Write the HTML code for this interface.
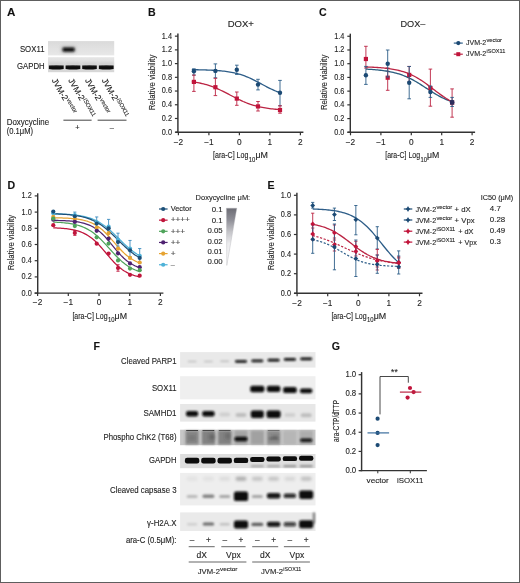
<!DOCTYPE html>
<html><head><meta charset="utf-8"><style>
html,body{margin:0;padding:0;background:#fff;}
body{width:520px;height:583px;overflow:hidden;}
svg{display:block;font-family:"Liberation Sans", sans-serif;will-change:transform;}
text{stroke:#2a2a2a;stroke-width:0.12px;}
</style></head><body>
<svg width="520" height="583" viewBox="0 0 520 583">
<defs>
<filter id="b06" x="-50%" y="-100%" width="200%" height="300%"><feGaussianBlur stdDeviation="0.6"/></filter>
<filter id="b08" x="-50%" y="-100%" width="200%" height="300%"><feGaussianBlur stdDeviation="0.8"/></filter>
<filter id="b12" x="-50%" y="-50%" width="200%" height="200%"><feGaussianBlur stdDeviation="1.2"/></filter>
<filter id="b15" x="-50%" y="-100%" width="200%" height="300%"><feGaussianBlur stdDeviation="1.5"/></filter>
<linearGradient id="gA1" x1="0" y1="0" x2="0" y2="1"><stop offset="0" stop-color="#dadada"/><stop offset="1" stop-color="#e8e8e8"/></linearGradient>
<linearGradient id="gA2" x1="0" y1="0" x2="0" y2="1"><stop offset="0" stop-color="#e6e6e6"/><stop offset="0.45" stop-color="#dcdcdc"/><stop offset="1" stop-color="#d6d6d6"/></linearGradient>
<linearGradient id="tri" x1="0" y1="0" x2="0" y2="1"><stop offset="0" stop-color="#6c6c74"/><stop offset="0.2" stop-color="#8e8e96"/><stop offset="0.42" stop-color="#c6c6ca"/><stop offset="0.62" stop-color="#ececee"/><stop offset="1" stop-color="#fbfbfb"/></linearGradient>
</defs>
<rect x="0" y="0" width="520" height="583" fill="#fff"/>
<text x="6.9" y="16.2" font-size="11.6" font-weight="bold" fill="#111">A</text>
<text x="44.5" y="52.0" font-size="8.8" text-anchor="end" textLength="24.6" lengthAdjust="spacingAndGlyphs" fill="#1c1c1c">SOX11</text>
<text x="44.6" y="68.6" font-size="8.8" text-anchor="end" textLength="27.6" lengthAdjust="spacingAndGlyphs" fill="#1c1c1c">GAPDH</text>
<rect x="48" y="41.1" width="66.2" height="14.3" fill="url(#gA1)"/>
<rect x="48" y="57.2" width="66.2" height="15.0" fill="url(#gA2)"/>
<rect x="60.5" y="45.5" width="16" height="8" rx="3" fill="#999" fill-opacity="0.35" filter="url(#b15)"/>
<rect x="62.6" y="47.4" width="12" height="4.3" rx="1.4" fill="#0a0a0a" filter="url(#b08)"/>
<path d="M48.9,65.6 Q56.3,65.0 63.7,65.6 L63.7,68.9 Q56.3,70.3 48.9,68.9 Z" fill="#0b0b0b" filter="url(#b06)"/>
<rect x="48.9" y="62.5" width="14.800000000000004" height="3" fill="#aaa" fill-opacity="0.25" filter="url(#b12)"/>
<path d="M65.6,65.6 Q72.94999999999999,65.0 80.3,65.6 L80.3,68.9 Q72.94999999999999,70.3 65.6,68.9 Z" fill="#0b0b0b" filter="url(#b06)"/>
<rect x="65.6" y="62.5" width="14.700000000000003" height="3" fill="#aaa" fill-opacity="0.25" filter="url(#b12)"/>
<path d="M82.2,65.6 Q89.5,65.0 96.8,65.6 L96.8,68.9 Q89.5,70.3 82.2,68.9 Z" fill="#0b0b0b" filter="url(#b06)"/>
<rect x="82.2" y="62.5" width="14.599999999999994" height="3" fill="#aaa" fill-opacity="0.25" filter="url(#b12)"/>
<path d="M98.9,65.6 Q106.25,65.0 113.6,65.6 L113.6,68.9 Q106.25,70.3 98.9,68.9 Z" fill="#0b0b0b" filter="url(#b06)"/>
<rect x="98.9" y="62.5" width="14.699999999999989" height="3" fill="#aaa" fill-opacity="0.25" filter="url(#b12)"/>
<text transform="translate(51.4,80.2) rotate(60)" font-size="8.4" fill="#1c1c1c">JVM-2<tspan font-size="5.8" dx="0.3" dy="-3.2">vector</tspan></text>
<text transform="translate(68.0,80.2) rotate(60)" font-size="8.4" fill="#1c1c1c">JVM-2<tspan font-size="5.8" dx="0.3" dy="-3.2">iSOX11</tspan></text>
<text transform="translate(84.7,80.2) rotate(60)" font-size="8.4" fill="#1c1c1c">JVM-2<tspan font-size="5.8" dx="0.3" dy="-3.2">vector</tspan></text>
<text transform="translate(101.4,80.2) rotate(60)" font-size="8.4" fill="#1c1c1c">JVM-2<tspan font-size="5.8" dx="0.3" dy="-3.2">iSOX11</tspan></text>
<line x1="63.4" y1="120.2" x2="91.6" y2="120.2" stroke="#555" stroke-width="1.1"/>
<line x1="97.6" y1="120.2" x2="126.5" y2="120.2" stroke="#555" stroke-width="1.1"/>
<text x="77.4" y="129.5" font-size="7.5" text-anchor="middle" fill="#1c1c1c">+</text>
<text x="111.8" y="129.5" font-size="7.5" text-anchor="middle" fill="#1c1c1c">–</text>
<text x="6.7" y="125.0" font-size="8.5" textLength="42.4" lengthAdjust="spacingAndGlyphs" fill="#1c1c1c">Doxycycline</text>
<text x="6.7" y="134.3" font-size="8.3" textLength="26.3" lengthAdjust="spacingAndGlyphs" fill="#1c1c1c">(0.1μM)</text>
<text x="147.9" y="16.1" font-size="10.6" font-weight="bold" fill="#111">B</text>
<text x="227.7" y="27.0" font-size="8.9" textLength="26.2" lengthAdjust="spacingAndGlyphs" fill="#1c1c1c">DOX+</text>
<line x1="177.9" y1="33.559999999999995" x2="177.9" y2="132.79999999999998" stroke="#333333" stroke-width="1.45"/>
<line x1="174.9" y1="132.2" x2="177.9" y2="132.2" stroke="#333333" stroke-width="1.2"/>
<text x="172.0" y="134.6" font-size="8.5" text-anchor="end" textLength="10.2" lengthAdjust="spacingAndGlyphs" fill="#1c1c1c">0.0</text>
<line x1="174.9" y1="118.47999999999999" x2="177.9" y2="118.47999999999999" stroke="#333333" stroke-width="1.2"/>
<text x="172.0" y="120.88" font-size="8.5" text-anchor="end" textLength="10.2" lengthAdjust="spacingAndGlyphs" fill="#1c1c1c">0.2</text>
<line x1="174.9" y1="104.75999999999999" x2="177.9" y2="104.75999999999999" stroke="#333333" stroke-width="1.2"/>
<text x="172.0" y="107.16" font-size="8.5" text-anchor="end" textLength="10.2" lengthAdjust="spacingAndGlyphs" fill="#1c1c1c">0.4</text>
<line x1="174.9" y1="91.03999999999999" x2="177.9" y2="91.03999999999999" stroke="#333333" stroke-width="1.2"/>
<text x="172.0" y="93.44" font-size="8.5" text-anchor="end" textLength="10.2" lengthAdjust="spacingAndGlyphs" fill="#1c1c1c">0.6</text>
<line x1="174.9" y1="77.32" x2="177.9" y2="77.32" stroke="#333333" stroke-width="1.2"/>
<text x="172.0" y="79.72" font-size="8.5" text-anchor="end" textLength="10.2" lengthAdjust="spacingAndGlyphs" fill="#1c1c1c">0.8</text>
<line x1="174.9" y1="63.599999999999994" x2="177.9" y2="63.599999999999994" stroke="#333333" stroke-width="1.2"/>
<text x="172.0" y="66.0" font-size="8.5" text-anchor="end" textLength="10.2" lengthAdjust="spacingAndGlyphs" fill="#1c1c1c">1.0</text>
<line x1="174.9" y1="49.879999999999995" x2="177.9" y2="49.879999999999995" stroke="#333333" stroke-width="1.2"/>
<text x="172.0" y="52.279999999999994" font-size="8.5" text-anchor="end" textLength="10.2" lengthAdjust="spacingAndGlyphs" fill="#1c1c1c">1.2</text>
<line x1="174.9" y1="36.16" x2="177.9" y2="36.16" stroke="#333333" stroke-width="1.2"/>
<text x="172.0" y="38.559999999999995" font-size="8.5" text-anchor="end" textLength="10.2" lengthAdjust="spacingAndGlyphs" fill="#1c1c1c">1.4</text>
<line x1="175.4" y1="132.2" x2="303.4" y2="132.2" stroke="#333333" stroke-width="1.45"/>
<line x1="178.4" y1="132.2" x2="178.4" y2="135.2" stroke="#333333" stroke-width="1.2"/>
<text x="178.4" y="144.5" font-size="8.3" text-anchor="middle" fill="#1c1c1c">−2</text>
<line x1="208.9" y1="132.2" x2="208.9" y2="135.2" stroke="#333333" stroke-width="1.2"/>
<text x="208.9" y="144.5" font-size="8.3" text-anchor="middle" fill="#1c1c1c">−1</text>
<line x1="239.4" y1="132.2" x2="239.4" y2="135.2" stroke="#333333" stroke-width="1.2"/>
<text x="239.4" y="144.5" font-size="8.3" text-anchor="middle" fill="#1c1c1c">0</text>
<line x1="269.9" y1="132.2" x2="269.9" y2="135.2" stroke="#333333" stroke-width="1.2"/>
<text x="269.9" y="144.5" font-size="8.3" text-anchor="middle" fill="#1c1c1c">1</text>
<line x1="300.4" y1="132.2" x2="300.4" y2="135.2" stroke="#333333" stroke-width="1.2"/>
<text x="300.4" y="144.5" font-size="8.3" text-anchor="middle" fill="#1c1c1c">2</text>
<text transform="translate(155.1,82.5) rotate(-90)" font-size="8.6" text-anchor="middle" textLength="55.7" lengthAdjust="spacingAndGlyphs" fill="#1c1c1c">Relative viability</text>
<text x="213.1" y="158.3" font-size="8.2" textLength="35.3" lengthAdjust="spacingAndGlyphs" fill="#1c1c1c">[ara-C] Log</text>
<text x="248.7" y="161.5" font-size="6.4" textLength="6.6" lengthAdjust="spacingAndGlyphs" fill="#1c1c1c">10</text>
<text x="255.4" y="158.3" font-size="8.2" textLength="12.5" lengthAdjust="spacingAndGlyphs" fill="#1c1c1c">μM</text>
<polyline points="191.82,69.67 193.29,69.68 194.76,69.71 196.23,69.73 197.70,69.76 199.17,69.78 200.63,69.82 202.10,69.85 203.57,69.89 205.04,69.94 206.51,69.99 207.98,70.04 209.45,70.10 210.92,70.17 212.39,70.24 213.86,70.33 215.33,70.42 216.79,70.52 218.26,70.63 219.73,70.76 221.20,70.90 222.67,71.05 224.14,71.21 225.61,71.40 227.08,71.60 228.55,71.82 230.02,72.06 231.49,72.33 232.95,72.62 234.42,72.94 235.89,73.28 237.36,73.65 238.83,74.05 240.30,74.49 241.77,74.95 243.24,75.45 244.71,75.98 246.18,76.54 247.65,77.14 249.11,77.77 250.58,78.43 252.05,79.11 253.52,79.83 254.99,80.56 256.46,81.32 257.93,82.09 259.40,82.87 260.87,83.66 262.34,84.46 263.81,85.25 265.27,86.03 266.74,86.81 268.21,87.56 269.68,88.30 271.15,89.02 272.62,89.71 274.09,90.37 275.56,91.00 277.03,91.60 278.50,92.17 279.97,92.71" fill="none" stroke="#2d5d88" stroke-width="1.3" stroke-linejoin="round"/>
<polyline points="191.82,81.71 193.29,81.91 194.76,82.14 196.23,82.38 197.70,82.64 199.17,82.93 200.63,83.24 202.10,83.57 203.57,83.93 205.04,84.32 206.51,84.74 207.98,85.18 209.45,85.65 210.92,86.15 212.39,86.69 213.86,87.25 215.33,87.84 216.79,88.46 218.26,89.10 219.73,89.77 221.20,90.47 222.67,91.18 224.14,91.91 225.61,92.66 227.08,93.42 228.55,94.19 230.02,94.96 231.49,95.74 232.95,96.51 234.42,97.27 235.89,98.02 237.36,98.76 238.83,99.48 240.30,100.18 241.77,100.86 243.24,101.52 244.71,102.14 246.18,102.74 247.65,103.31 249.11,103.85 250.58,104.37 252.05,104.85 253.52,105.30 254.99,105.72 256.46,106.12 257.93,106.49 259.40,106.83 260.87,107.15 262.34,107.44 263.81,107.71 265.27,107.96 266.74,108.19 268.21,108.41 269.68,108.60 271.15,108.78 272.62,108.94 274.09,109.09 275.56,109.23 277.03,109.35 278.50,109.46 279.97,109.57" fill="none" stroke="#bb2443" stroke-width="1.3" stroke-linejoin="round"/>
<line x1="193.9" y1="68.8" x2="193.9" y2="75.1" stroke="#2d5d88" stroke-width="0.9"/>
<line x1="192.1" y1="68.8" x2="195.70000000000002" y2="68.8" stroke="#2d5d88" stroke-width="0.9"/>
<line x1="192.1" y1="75.1" x2="195.70000000000002" y2="75.1" stroke="#2d5d88" stroke-width="0.9"/>
<circle cx="193.9" cy="71.3" r="2.2" fill="#1c4a74"/>
<line x1="215.4" y1="63.9" x2="215.4" y2="77.8" stroke="#2d5d88" stroke-width="0.9"/>
<line x1="213.6" y1="63.9" x2="217.20000000000002" y2="63.9" stroke="#2d5d88" stroke-width="0.9"/>
<line x1="213.6" y1="77.8" x2="217.20000000000002" y2="77.8" stroke="#2d5d88" stroke-width="0.9"/>
<circle cx="215.4" cy="70.9" r="2.2" fill="#1c4a74"/>
<line x1="236.8" y1="65.2" x2="236.8" y2="74.4" stroke="#2d5d88" stroke-width="0.9"/>
<line x1="235.0" y1="65.2" x2="238.60000000000002" y2="65.2" stroke="#2d5d88" stroke-width="0.9"/>
<line x1="235.0" y1="74.4" x2="238.60000000000002" y2="74.4" stroke="#2d5d88" stroke-width="0.9"/>
<circle cx="236.8" cy="69.8" r="2.2" fill="#1c4a74"/>
<line x1="258.0" y1="79.3" x2="258.0" y2="89.9" stroke="#2d5d88" stroke-width="0.9"/>
<line x1="256.2" y1="79.3" x2="259.8" y2="79.3" stroke="#2d5d88" stroke-width="0.9"/>
<line x1="256.2" y1="89.9" x2="259.8" y2="89.9" stroke="#2d5d88" stroke-width="0.9"/>
<circle cx="258.0" cy="84.6" r="2.2" fill="#1c4a74"/>
<line x1="280.0" y1="80.4" x2="280.0" y2="105.8" stroke="#2d5d88" stroke-width="0.9"/>
<line x1="278.2" y1="80.4" x2="281.8" y2="80.4" stroke="#2d5d88" stroke-width="0.9"/>
<line x1="278.2" y1="105.8" x2="281.8" y2="105.8" stroke="#2d5d88" stroke-width="0.9"/>
<circle cx="280.0" cy="92.7" r="2.2" fill="#1c4a74"/>
<line x1="193.9" y1="75.1" x2="193.9" y2="91.4" stroke="#bb2443" stroke-width="0.9"/>
<line x1="192.1" y1="75.1" x2="195.70000000000002" y2="75.1" stroke="#bb2443" stroke-width="0.9"/>
<line x1="192.1" y1="91.4" x2="195.70000000000002" y2="91.4" stroke="#bb2443" stroke-width="0.9"/>
<rect x="191.8" y="79.80000000000001" width="4.2" height="4.2" fill="#c1143b"/>
<line x1="215.4" y1="78.3" x2="215.4" y2="95.6" stroke="#bb2443" stroke-width="0.9"/>
<line x1="213.6" y1="78.3" x2="217.20000000000002" y2="78.3" stroke="#bb2443" stroke-width="0.9"/>
<line x1="213.6" y1="95.6" x2="217.20000000000002" y2="95.6" stroke="#bb2443" stroke-width="0.9"/>
<rect x="213.3" y="85.10000000000001" width="4.2" height="4.2" fill="#c1143b"/>
<line x1="236.8" y1="92" x2="236.8" y2="105.3" stroke="#bb2443" stroke-width="0.9"/>
<line x1="235.0" y1="92" x2="238.60000000000002" y2="92" stroke="#bb2443" stroke-width="0.9"/>
<line x1="235.0" y1="105.3" x2="238.60000000000002" y2="105.3" stroke="#bb2443" stroke-width="0.9"/>
<rect x="234.70000000000002" y="96.5" width="4.2" height="4.2" fill="#c1143b"/>
<line x1="258.0" y1="101.5" x2="258.0" y2="111" stroke="#bb2443" stroke-width="0.9"/>
<line x1="256.2" y1="101.5" x2="259.8" y2="101.5" stroke="#bb2443" stroke-width="0.9"/>
<line x1="256.2" y1="111" x2="259.8" y2="111" stroke="#bb2443" stroke-width="0.9"/>
<rect x="255.9" y="104.30000000000001" width="4.2" height="4.2" fill="#c1143b"/>
<line x1="280.0" y1="105.8" x2="280.0" y2="113.2" stroke="#bb2443" stroke-width="0.9"/>
<line x1="278.2" y1="105.8" x2="281.8" y2="105.8" stroke="#bb2443" stroke-width="0.9"/>
<line x1="278.2" y1="113.2" x2="281.8" y2="113.2" stroke="#bb2443" stroke-width="0.9"/>
<rect x="277.9" y="107.9" width="4.2" height="4.2" fill="#c1143b"/>
<text x="318.9" y="16.1" font-size="10.6" font-weight="bold" fill="#111">C</text>
<text x="400.5" y="27.0" font-size="8.9" textLength="24.9" lengthAdjust="spacingAndGlyphs" fill="#1c1c1c">DOX–</text>
<line x1="350.3" y1="33.66000000000002" x2="350.3" y2="132.9" stroke="#333333" stroke-width="1.45"/>
<line x1="347.3" y1="132.3" x2="350.3" y2="132.3" stroke="#333333" stroke-width="1.2"/>
<text x="344.4" y="134.70000000000002" font-size="8.5" text-anchor="end" textLength="10.2" lengthAdjust="spacingAndGlyphs" fill="#1c1c1c">0.0</text>
<line x1="347.3" y1="118.58000000000001" x2="350.3" y2="118.58000000000001" stroke="#333333" stroke-width="1.2"/>
<text x="344.4" y="120.98000000000002" font-size="8.5" text-anchor="end" textLength="10.2" lengthAdjust="spacingAndGlyphs" fill="#1c1c1c">0.2</text>
<line x1="347.3" y1="104.86000000000001" x2="350.3" y2="104.86000000000001" stroke="#333333" stroke-width="1.2"/>
<text x="344.4" y="107.26000000000002" font-size="8.5" text-anchor="end" textLength="10.2" lengthAdjust="spacingAndGlyphs" fill="#1c1c1c">0.4</text>
<line x1="347.3" y1="91.14000000000001" x2="350.3" y2="91.14000000000001" stroke="#333333" stroke-width="1.2"/>
<text x="344.4" y="93.54000000000002" font-size="8.5" text-anchor="end" textLength="10.2" lengthAdjust="spacingAndGlyphs" fill="#1c1c1c">0.6</text>
<line x1="347.3" y1="77.42000000000002" x2="350.3" y2="77.42000000000002" stroke="#333333" stroke-width="1.2"/>
<text x="344.4" y="79.82000000000002" font-size="8.5" text-anchor="end" textLength="10.2" lengthAdjust="spacingAndGlyphs" fill="#1c1c1c">0.8</text>
<line x1="347.3" y1="63.70000000000002" x2="350.3" y2="63.70000000000002" stroke="#333333" stroke-width="1.2"/>
<text x="344.4" y="66.10000000000002" font-size="8.5" text-anchor="end" textLength="10.2" lengthAdjust="spacingAndGlyphs" fill="#1c1c1c">1.0</text>
<line x1="347.3" y1="49.98000000000002" x2="350.3" y2="49.98000000000002" stroke="#333333" stroke-width="1.2"/>
<text x="344.4" y="52.38000000000002" font-size="8.5" text-anchor="end" textLength="10.2" lengthAdjust="spacingAndGlyphs" fill="#1c1c1c">1.2</text>
<line x1="347.3" y1="36.26000000000002" x2="350.3" y2="36.26000000000002" stroke="#333333" stroke-width="1.2"/>
<text x="344.4" y="38.66000000000002" font-size="8.5" text-anchor="end" textLength="10.2" lengthAdjust="spacingAndGlyphs" fill="#1c1c1c">1.4</text>
<line x1="347.5" y1="132.3" x2="475.1" y2="132.3" stroke="#333333" stroke-width="1.45"/>
<line x1="350.5" y1="132.3" x2="350.5" y2="135.3" stroke="#333333" stroke-width="1.2"/>
<text x="350.5" y="144.60000000000002" font-size="8.3" text-anchor="middle" fill="#1c1c1c">−2</text>
<line x1="380.90000000000003" y1="132.3" x2="380.90000000000003" y2="135.3" stroke="#333333" stroke-width="1.2"/>
<text x="380.90000000000003" y="144.60000000000002" font-size="8.3" text-anchor="middle" fill="#1c1c1c">−1</text>
<line x1="411.3" y1="132.3" x2="411.3" y2="135.3" stroke="#333333" stroke-width="1.2"/>
<text x="411.3" y="144.60000000000002" font-size="8.3" text-anchor="middle" fill="#1c1c1c">0</text>
<line x1="441.7" y1="132.3" x2="441.7" y2="135.3" stroke="#333333" stroke-width="1.2"/>
<text x="441.7" y="144.60000000000002" font-size="8.3" text-anchor="middle" fill="#1c1c1c">1</text>
<line x1="472.1" y1="132.3" x2="472.1" y2="135.3" stroke="#333333" stroke-width="1.2"/>
<text x="472.1" y="144.60000000000002" font-size="8.3" text-anchor="middle" fill="#1c1c1c">2</text>
<text transform="translate(327.2,82.4) rotate(-90)" font-size="8.6" text-anchor="middle" textLength="55.4" lengthAdjust="spacingAndGlyphs" fill="#1c1c1c">Relative viability</text>
<text x="385.2" y="158.3" font-size="8.2" textLength="34.9" lengthAdjust="spacingAndGlyphs" fill="#1c1c1c">[ara-C] Log</text>
<text x="420.4" y="161.5" font-size="6.4" textLength="6.5" lengthAdjust="spacingAndGlyphs" fill="#1c1c1c">10</text>
<text x="427.0" y="158.3" font-size="8.2" textLength="12.3" lengthAdjust="spacingAndGlyphs" fill="#1c1c1c">μM</text>
<polyline points="366.00,69.15 367.44,69.22 368.87,69.30 370.31,69.38 371.74,69.47 373.17,69.57 374.61,69.68 376.04,69.80 377.47,69.93 378.91,70.08 380.34,70.23 381.78,70.40 383.21,70.59 384.64,70.79 386.08,71.01 387.51,71.25 388.95,71.50 390.38,71.78 391.81,72.09 393.25,72.41 394.68,72.77 396.12,73.15 397.55,73.55 398.98,73.99 400.42,74.46 401.85,74.96 403.28,75.50 404.72,76.06 406.15,76.66 407.59,77.30 409.02,77.97 410.45,78.67 411.89,79.41 413.32,80.18 414.76,80.97 416.19,81.80 417.62,82.65 419.06,83.52 420.49,84.42 421.92,85.33 423.36,86.25 424.79,87.18 426.23,88.12 427.66,89.05 429.09,89.98 430.53,90.91 431.96,91.82 433.40,92.71 434.83,93.59 436.26,94.44 437.70,95.27 439.13,96.07 440.57,96.84 442.00,97.58 443.43,98.28 444.87,98.96 446.30,99.59 447.73,100.20 449.17,100.77 450.60,101.31 452.04,101.81" fill="none" stroke="#2a5c7e" stroke-width="1.3" stroke-linejoin="round"/>
<polyline points="366.00,66.97 367.44,67.02 368.87,67.07 370.31,67.12 371.74,67.18 373.17,67.25 374.61,67.33 376.04,67.41 377.47,67.50 378.91,67.60 380.34,67.71 381.78,67.83 383.21,67.96 384.64,68.10 386.08,68.26 387.51,68.43 388.95,68.62 390.38,68.82 391.81,69.05 393.25,69.29 394.68,69.56 396.12,69.85 397.55,70.16 398.98,70.50 400.42,70.87 401.85,71.27 403.28,71.71 404.72,72.17 406.15,72.68 407.59,73.21 409.02,73.79 410.45,74.41 411.89,75.07 413.32,75.77 414.76,76.51 416.19,77.29 417.62,78.11 419.06,78.97 420.49,79.87 421.92,80.81 423.36,81.78 424.79,82.78 426.23,83.81 427.66,84.86 429.09,85.94 430.53,87.02 431.96,88.12 433.40,89.22 434.83,90.32 436.26,91.41 437.70,92.49 439.13,93.56 440.57,94.60 442.00,95.62 443.43,96.62 444.87,97.57 446.30,98.50 447.73,99.38 449.17,100.23 450.60,101.04 452.04,101.80" fill="none" stroke="#bb2443" stroke-width="1.3" stroke-linejoin="round"/>
<line x1="365.9" y1="46.3" x2="365.9" y2="68" stroke="#bb2443" stroke-width="0.9"/>
<line x1="364.09999999999997" y1="46.3" x2="367.7" y2="46.3" stroke="#bb2443" stroke-width="0.9"/>
<line x1="364.09999999999997" y1="68" x2="367.7" y2="68" stroke="#bb2443" stroke-width="0.9"/>
<rect x="363.79999999999995" y="56.9" width="4.2" height="4.2" fill="#c1143b"/>
<line x1="387.7" y1="68" x2="387.7" y2="90.3" stroke="#bb2443" stroke-width="0.9"/>
<line x1="385.9" y1="68" x2="389.5" y2="68" stroke="#bb2443" stroke-width="0.9"/>
<line x1="385.9" y1="90.3" x2="389.5" y2="90.3" stroke="#bb2443" stroke-width="0.9"/>
<rect x="385.59999999999997" y="75.60000000000001" width="4.2" height="4.2" fill="#c1143b"/>
<line x1="409.2" y1="66.4" x2="409.2" y2="82" stroke="#bb2443" stroke-width="0.9"/>
<line x1="407.4" y1="66.4" x2="411.0" y2="66.4" stroke="#bb2443" stroke-width="0.9"/>
<line x1="407.4" y1="82" x2="411.0" y2="82" stroke="#bb2443" stroke-width="0.9"/>
<rect x="407.09999999999997" y="72.80000000000001" width="4.2" height="4.2" fill="#c1143b"/>
<line x1="430.4" y1="69.1" x2="430.4" y2="106.2" stroke="#bb2443" stroke-width="0.9"/>
<line x1="428.59999999999997" y1="69.1" x2="432.2" y2="69.1" stroke="#bb2443" stroke-width="0.9"/>
<line x1="428.59999999999997" y1="106.2" x2="432.2" y2="106.2" stroke="#bb2443" stroke-width="0.9"/>
<rect x="428.29999999999995" y="86.0" width="4.2" height="4.2" fill="#c1143b"/>
<line x1="452.1" y1="88.9" x2="452.1" y2="117.2" stroke="#bb2443" stroke-width="0.9"/>
<line x1="450.3" y1="88.9" x2="453.90000000000003" y2="88.9" stroke="#bb2443" stroke-width="0.9"/>
<line x1="450.3" y1="117.2" x2="453.90000000000003" y2="117.2" stroke="#bb2443" stroke-width="0.9"/>
<rect x="450.0" y="100.5" width="4.2" height="4.2" fill="#c1143b"/>
<line x1="365.9" y1="66.4" x2="365.9" y2="84.4" stroke="#2d5d88" stroke-width="0.9"/>
<line x1="364.09999999999997" y1="66.4" x2="367.7" y2="66.4" stroke="#2d5d88" stroke-width="0.9"/>
<line x1="364.09999999999997" y1="84.4" x2="367.7" y2="84.4" stroke="#2d5d88" stroke-width="0.9"/>
<circle cx="365.9" cy="75.3" r="2.2" fill="#1c4a74"/>
<line x1="387.7" y1="50" x2="387.7" y2="77" stroke="#2d5d88" stroke-width="0.9"/>
<line x1="385.9" y1="50" x2="389.5" y2="50" stroke="#2d5d88" stroke-width="0.9"/>
<line x1="385.9" y1="77" x2="389.5" y2="77" stroke="#2d5d88" stroke-width="0.9"/>
<circle cx="387.7" cy="63.7" r="2.2" fill="#1c4a74"/>
<line x1="409.2" y1="66.5" x2="409.2" y2="98.8" stroke="#2d5d88" stroke-width="0.9"/>
<line x1="407.4" y1="66.5" x2="411.0" y2="66.5" stroke="#2d5d88" stroke-width="0.9"/>
<line x1="407.4" y1="98.8" x2="411.0" y2="98.8" stroke="#2d5d88" stroke-width="0.9"/>
<circle cx="409.2" cy="82.7" r="2.2" fill="#1c4a74"/>
<line x1="430.4" y1="86" x2="430.4" y2="97.4" stroke="#2d5d88" stroke-width="0.9"/>
<line x1="428.59999999999997" y1="86" x2="432.2" y2="86" stroke="#2d5d88" stroke-width="0.9"/>
<line x1="428.59999999999997" y1="97.4" x2="432.2" y2="97.4" stroke="#2d5d88" stroke-width="0.9"/>
<circle cx="430.4" cy="92" r="2.2" fill="#1c4a74"/>
<line x1="452.1" y1="97.4" x2="452.1" y2="106.5" stroke="#2d5d88" stroke-width="0.9"/>
<line x1="450.3" y1="97.4" x2="453.90000000000003" y2="97.4" stroke="#2d5d88" stroke-width="0.9"/>
<line x1="450.3" y1="106.5" x2="453.90000000000003" y2="106.5" stroke="#2d5d88" stroke-width="0.9"/>
<circle cx="452.1" cy="102.2" r="2.2" fill="#1c4a74"/>
<rect x="450.0" y="100.30000000000001" width="4.2" height="4.2" fill="#2e2d5c"/>
<line x1="453.8" y1="43.1" x2="462.8" y2="43.1" stroke="#2d5d88" stroke-width="1.2"/>
<circle cx="458.3" cy="43.1" r="2.1" fill="#1c4a74"/>
<line x1="453.8" y1="54.2" x2="462.8" y2="54.2" stroke="#bb2443" stroke-width="1.2"/>
<rect x="456.3" y="52.2" width="4" height="4" fill="#c1143b"/>
<text x="465.9" y="45.3" font-size="8.0" textLength="20.4" lengthAdjust="spacingAndGlyphs" fill="#1c1c1c">JVM-2</text>
<text x="486.5" y="41.9" font-size="5.7" textLength="15.5" lengthAdjust="spacingAndGlyphs" fill="#1c1c1c">vector</text>
<text x="465.9" y="56.4" font-size="8.0" textLength="20.4" lengthAdjust="spacingAndGlyphs" fill="#1c1c1c">JVM-2</text>
<text x="486.5" y="53.0" font-size="5.7" textLength="18.9" lengthAdjust="spacingAndGlyphs" fill="#1c1c1c">iSOX11</text>
<text x="7.5" y="188.6" font-size="10.6" font-weight="bold" fill="#111">D</text>
<line x1="37.7" y1="193.30000000000004" x2="37.7" y2="293.70000000000005" stroke="#333333" stroke-width="1.45"/>
<line x1="34.7" y1="293.1" x2="37.7" y2="293.1" stroke="#333333" stroke-width="1.2"/>
<text x="31.8" y="295.5" font-size="8.5" text-anchor="end" textLength="10.2" lengthAdjust="spacingAndGlyphs" fill="#1c1c1c">0.0</text>
<line x1="34.7" y1="276.90000000000003" x2="37.7" y2="276.90000000000003" stroke="#333333" stroke-width="1.2"/>
<text x="31.8" y="279.3" font-size="8.5" text-anchor="end" textLength="10.2" lengthAdjust="spacingAndGlyphs" fill="#1c1c1c">0.2</text>
<line x1="34.7" y1="260.70000000000005" x2="37.7" y2="260.70000000000005" stroke="#333333" stroke-width="1.2"/>
<text x="31.8" y="263.1" font-size="8.5" text-anchor="end" textLength="10.2" lengthAdjust="spacingAndGlyphs" fill="#1c1c1c">0.4</text>
<line x1="34.7" y1="244.50000000000003" x2="37.7" y2="244.50000000000003" stroke="#333333" stroke-width="1.2"/>
<text x="31.8" y="246.90000000000003" font-size="8.5" text-anchor="end" textLength="10.2" lengthAdjust="spacingAndGlyphs" fill="#1c1c1c">0.6</text>
<line x1="34.7" y1="228.3" x2="37.7" y2="228.3" stroke="#333333" stroke-width="1.2"/>
<text x="31.8" y="230.70000000000002" font-size="8.5" text-anchor="end" textLength="10.2" lengthAdjust="spacingAndGlyphs" fill="#1c1c1c">0.8</text>
<line x1="34.7" y1="212.10000000000002" x2="37.7" y2="212.10000000000002" stroke="#333333" stroke-width="1.2"/>
<text x="31.8" y="214.50000000000003" font-size="8.5" text-anchor="end" textLength="10.2" lengthAdjust="spacingAndGlyphs" fill="#1c1c1c">1.0</text>
<line x1="34.7" y1="195.90000000000003" x2="37.7" y2="195.90000000000003" stroke="#333333" stroke-width="1.2"/>
<text x="31.8" y="198.30000000000004" font-size="8.5" text-anchor="end" textLength="10.2" lengthAdjust="spacingAndGlyphs" fill="#1c1c1c">1.2</text>
<line x1="34.6" y1="293.1" x2="163.4" y2="293.1" stroke="#333333" stroke-width="1.45"/>
<line x1="37.6" y1="293.1" x2="37.6" y2="296.1" stroke="#333333" stroke-width="1.2"/>
<text x="37.6" y="305.40000000000003" font-size="8.3" text-anchor="middle" fill="#1c1c1c">−2</text>
<line x1="68.3" y1="293.1" x2="68.3" y2="296.1" stroke="#333333" stroke-width="1.2"/>
<text x="68.3" y="305.40000000000003" font-size="8.3" text-anchor="middle" fill="#1c1c1c">−1</text>
<line x1="99.0" y1="293.1" x2="99.0" y2="296.1" stroke="#333333" stroke-width="1.2"/>
<text x="99.0" y="305.40000000000003" font-size="8.3" text-anchor="middle" fill="#1c1c1c">0</text>
<line x1="129.7" y1="293.1" x2="129.7" y2="296.1" stroke="#333333" stroke-width="1.2"/>
<text x="129.7" y="305.40000000000003" font-size="8.3" text-anchor="middle" fill="#1c1c1c">1</text>
<line x1="160.4" y1="293.1" x2="160.4" y2="296.1" stroke="#333333" stroke-width="1.2"/>
<text x="160.4" y="305.40000000000003" font-size="8.3" text-anchor="middle" fill="#1c1c1c">2</text>
<text transform="translate(14.0,242.5) rotate(-90)" font-size="8.6" text-anchor="middle" textLength="55.5" lengthAdjust="spacingAndGlyphs" fill="#1c1c1c">Relative viability</text>
<text x="72.4" y="318.6" font-size="8.2" textLength="35.2" lengthAdjust="spacingAndGlyphs" fill="#1c1c1c">[ara-C] Log</text>
<text x="107.9" y="321.8" font-size="6.4" textLength="6.6" lengthAdjust="spacingAndGlyphs" fill="#1c1c1c">10</text>
<text x="114.6" y="318.6" font-size="8.2" textLength="12.4" lengthAdjust="spacingAndGlyphs" fill="#1c1c1c">μM</text>
<polyline points="53.29,213.76 54.73,213.79 56.17,213.83 57.61,213.87 59.05,213.92 60.49,213.97 61.93,214.03 63.37,214.10 64.81,214.17 66.25,214.25 67.69,214.35 69.13,214.45 70.57,214.56 72.01,214.69 73.45,214.83 74.89,214.99 76.33,215.17 77.77,215.37 79.21,215.58 80.65,215.83 82.09,216.10 83.53,216.39 84.98,216.72 86.42,217.09 87.86,217.49 89.30,217.93 90.74,218.41 92.18,218.94 93.62,219.52 95.06,220.16 96.50,220.85 97.94,221.59 99.38,222.40 100.82,223.26 102.26,224.19 103.70,225.19 105.14,226.24 106.58,227.36 108.02,228.53 109.46,229.76 110.90,231.04 112.34,232.36 113.78,233.73 115.22,235.12 116.66,236.53 118.10,237.96 119.54,239.40 120.98,240.82 122.42,242.24 123.86,243.63 125.30,244.99 126.75,246.31 128.19,247.59 129.63,248.81 131.07,249.98 132.51,251.09 133.95,252.14 135.39,253.13 136.83,254.06 138.27,254.92 139.71,255.72" fill="none" stroke="#4fb2d8" stroke-width="1.25" stroke-linejoin="round"/>
<polyline points="53.29,217.77 54.73,217.79 56.17,217.82 57.61,217.85 59.05,217.88 60.49,217.92 61.93,217.97 63.37,218.02 64.81,218.08 66.25,218.15 67.69,218.23 69.13,218.32 70.57,218.42 72.01,218.53 73.45,218.66 74.89,218.81 76.33,218.98 77.77,219.18 79.21,219.40 80.65,219.65 82.09,219.93 83.53,220.25 84.98,220.61 86.42,221.01 87.86,221.47 89.30,221.98 90.74,222.55 92.18,223.19 93.62,223.90 95.06,224.68 96.50,225.54 97.94,226.49 99.38,227.52 100.82,228.64 102.26,229.84 103.70,231.13 105.14,232.50 106.58,233.95 108.02,235.46 109.46,237.03 110.90,238.65 112.34,240.30 113.78,241.96 115.22,243.63 116.66,245.29 118.10,246.92 119.54,248.51 120.98,250.04 122.42,251.51 123.86,252.90 125.30,254.22 126.75,255.45 128.19,256.60 129.63,257.66 131.07,258.63 132.51,259.52 133.95,260.32 135.39,261.06 136.83,261.71 138.27,262.31 139.71,262.84" fill="none" stroke="#e6a332" stroke-width="1.25" stroke-linejoin="round"/>
<polyline points="53.29,220.38 54.73,220.40 56.17,220.43 57.61,220.46 59.05,220.50 60.49,220.55 61.93,220.60 63.37,220.66 64.81,220.72 66.25,220.80 67.69,220.89 69.13,220.99 70.57,221.10 72.01,221.23 73.45,221.38 74.89,221.55 76.33,221.74 77.77,221.96 79.21,222.21 80.65,222.49 82.09,222.82 83.53,223.18 84.98,223.59 86.42,224.05 87.86,224.57 89.30,225.15 90.74,225.80 92.18,226.52 93.62,227.33 95.06,228.21 96.50,229.18 97.94,230.25 99.38,231.40 100.82,232.65 102.26,233.99 103.70,235.42 105.14,236.93 106.58,238.51 108.02,240.15 109.46,241.85 110.90,243.58 112.34,245.33 113.78,247.08 115.22,248.82 116.66,250.53 118.10,252.20 119.54,253.81 120.98,255.35 122.42,256.81 123.86,258.19 125.30,259.48 126.75,260.68 128.19,261.78 129.63,262.80 131.07,263.72 132.51,264.56 133.95,265.32 135.39,266.00 136.83,266.61 138.27,267.16 139.71,267.64" fill="none" stroke="#4e2170" stroke-width="1.25" stroke-linejoin="round"/>
<polyline points="53.29,222.09 54.73,222.16 56.17,222.23 57.61,222.31 59.05,222.40 60.49,222.50 61.93,222.62 63.37,222.75 64.81,222.89 66.25,223.05 67.69,223.24 69.13,223.44 70.57,223.67 72.01,223.92 73.45,224.20 74.89,224.51 76.33,224.86 77.77,225.25 79.21,225.68 80.65,226.16 82.09,226.68 83.53,227.26 84.98,227.89 86.42,228.59 87.86,229.35 89.30,230.18 90.74,231.07 92.18,232.04 93.62,233.08 95.06,234.20 96.50,235.39 97.94,236.65 99.38,237.98 100.82,239.37 102.26,240.83 103.70,242.33 105.14,243.87 106.58,245.45 108.02,247.05 109.46,248.66 110.90,250.27 112.34,251.86 113.78,253.44 115.22,254.98 116.66,256.48 118.10,257.93 119.54,259.32 120.98,260.65 122.42,261.91 123.86,263.10 125.30,264.21 126.75,265.25 128.19,266.22 129.63,267.11 131.07,267.94 132.51,268.70 133.95,269.39 135.39,270.02 136.83,270.60 138.27,271.12 139.71,271.60" fill="none" stroke="#4fa35a" stroke-width="1.25" stroke-linejoin="round"/>
<polyline points="53.29,213.80 54.73,213.85 56.17,213.90 57.61,213.96 59.05,214.02 60.49,214.09 61.93,214.17 63.37,214.26 64.81,214.35 66.25,214.46 67.69,214.58 69.13,214.71 70.57,214.86 72.01,215.02 73.45,215.20 74.89,215.40 76.33,215.62 77.77,215.86 79.21,216.12 80.65,216.42 82.09,216.74 83.53,217.10 84.98,217.49 86.42,217.91 87.86,218.38 89.30,218.89 90.74,219.45 92.18,220.05 93.62,220.71 95.06,221.42 96.50,222.18 97.94,223.00 99.38,223.88 100.82,224.82 102.26,225.82 103.70,226.88 105.14,228.00 106.58,229.17 108.02,230.40 109.46,231.67 110.90,232.99 112.34,234.34 113.78,235.73 115.22,237.14 116.66,238.57 118.10,240.00 119.54,241.44 120.98,242.86 122.42,244.27 123.86,245.66 125.30,247.01 126.75,248.33 128.19,249.60 129.63,250.82 131.07,251.99 132.51,253.10 133.95,254.16 135.39,255.16 136.83,256.09 138.27,256.97 139.71,257.79" fill="none" stroke="#1b4f78" stroke-width="1.25" stroke-linejoin="round"/>
<polyline points="53.29,227.87 54.73,227.93 56.17,227.99 57.61,228.06 59.05,228.14 60.49,228.23 61.93,228.33 63.37,228.45 64.81,228.58 66.25,228.74 67.69,228.91 69.13,229.11 70.57,229.33 72.01,229.58 73.45,229.86 74.89,230.18 76.33,230.55 77.77,230.95 79.21,231.41 80.65,231.92 82.09,232.49 83.53,233.12 84.98,233.83 86.42,234.61 87.86,235.47 89.30,236.41 90.74,237.43 92.18,238.55 93.62,239.75 95.06,241.04 96.50,242.41 97.94,243.86 99.38,245.39 100.82,246.98 102.26,248.62 103.70,250.30 105.14,252.01 106.58,253.73 108.02,255.44 109.46,257.14 110.90,258.80 112.34,260.41 113.78,261.97 115.22,263.46 116.66,264.87 118.10,266.20 119.54,267.45 120.98,268.61 122.42,269.68 123.86,270.66 125.30,271.56 126.75,272.37 128.19,273.12 129.63,273.78 131.07,274.39 132.51,274.93 133.95,275.41 135.39,275.84 136.83,276.22 138.27,276.56 139.71,276.86" fill="none" stroke="#c0163c" stroke-width="1.25" stroke-linejoin="round"/>
<line x1="74.8084" y1="212.10000000000002" x2="74.8084" y2="220.20000000000005" stroke="#3d8cc0" stroke-width="0.9"/>
<line x1="73.20840000000001" y1="212.10000000000002" x2="76.4084" y2="212.10000000000002" stroke="#3d8cc0" stroke-width="0.9"/>
<line x1="73.20840000000001" y1="220.20000000000005" x2="76.4084" y2="220.20000000000005" stroke="#3d8cc0" stroke-width="0.9"/>
<line x1="96.6975" y1="216.96000000000004" x2="96.6975" y2="229.92000000000002" stroke="#3d8cc0" stroke-width="0.9"/>
<line x1="95.09750000000001" y1="216.96000000000004" x2="98.2975" y2="216.96000000000004" stroke="#3d8cc0" stroke-width="0.9"/>
<line x1="95.09750000000001" y1="229.92000000000002" x2="98.2975" y2="229.92000000000002" stroke="#3d8cc0" stroke-width="0.9"/>
<line x1="108.6091" y1="219.39000000000004" x2="108.6091" y2="233.97000000000003" stroke="#3d8cc0" stroke-width="0.9"/>
<line x1="107.0091" y1="219.39000000000004" x2="110.20909999999999" y2="219.39000000000004" stroke="#3d8cc0" stroke-width="0.9"/>
<line x1="107.0091" y1="233.97000000000003" x2="110.20909999999999" y2="233.97000000000003" stroke="#3d8cc0" stroke-width="0.9"/>
<line x1="118.0033" y1="233.16000000000003" x2="118.0033" y2="246.12" stroke="#3d8cc0" stroke-width="0.9"/>
<line x1="116.4033" y1="233.16000000000003" x2="119.60329999999999" y2="233.16000000000003" stroke="#3d8cc0" stroke-width="0.9"/>
<line x1="116.4033" y1="246.12" x2="119.60329999999999" y2="246.12" stroke="#3d8cc0" stroke-width="0.9"/>
<line x1="130.007" y1="240.45000000000002" x2="130.007" y2="256.65000000000003" stroke="#3d8cc0" stroke-width="0.9"/>
<line x1="128.407" y1="240.45000000000002" x2="131.607" y2="240.45000000000002" stroke="#3d8cc0" stroke-width="0.9"/>
<line x1="128.407" y1="256.65000000000003" x2="131.607" y2="256.65000000000003" stroke="#3d8cc0" stroke-width="0.9"/>
<line x1="139.7082" y1="248.55" x2="139.7082" y2="263.13" stroke="#3d8cc0" stroke-width="0.9"/>
<line x1="138.1082" y1="248.55" x2="141.3082" y2="248.55" stroke="#3d8cc0" stroke-width="0.9"/>
<line x1="138.1082" y1="263.13" x2="141.3082" y2="263.13" stroke="#3d8cc0" stroke-width="0.9"/>
<line x1="118.0033" y1="264.75" x2="118.0033" y2="271.23" stroke="#c0163c" stroke-width="0.9"/>
<line x1="116.4033" y1="264.75" x2="119.60329999999999" y2="264.75" stroke="#c0163c" stroke-width="0.9"/>
<line x1="116.4033" y1="271.23" x2="119.60329999999999" y2="271.23" stroke="#c0163c" stroke-width="0.9"/>
<line x1="74.8084" y1="230.48700000000002" x2="74.8084" y2="235.34700000000004" stroke="#c0163c" stroke-width="0.9"/>
<line x1="73.20840000000001" y1="230.48700000000002" x2="76.4084" y2="230.48700000000002" stroke="#c0163c" stroke-width="0.9"/>
<line x1="73.20840000000001" y1="235.34700000000004" x2="76.4084" y2="235.34700000000004" stroke="#c0163c" stroke-width="0.9"/>
<circle cx="53.2877" cy="213.31500000000003" r="2.1" fill="#4fb2d8"/>
<circle cx="74.8084" cy="215.17800000000003" r="2.1" fill="#4fb2d8"/>
<circle cx="96.6975" cy="222.22500000000002" r="2.1" fill="#4fb2d8"/>
<circle cx="108.6091" cy="226.68" r="2.1" fill="#4fb2d8"/>
<circle cx="118.0033" cy="239.64000000000001" r="2.1" fill="#4fb2d8"/>
<circle cx="130.007" cy="248.55" r="2.1" fill="#4fb2d8"/>
<circle cx="139.7082" cy="255.84000000000003" r="2.1" fill="#4fb2d8"/>
<circle cx="53.2877" cy="216.96000000000004" r="2.1" fill="#e6a332"/>
<circle cx="74.8084" cy="218.985" r="2.1" fill="#e6a332"/>
<circle cx="96.6975" cy="227.733" r="2.1" fill="#e6a332"/>
<circle cx="108.6091" cy="233.079" r="2.1" fill="#e6a332"/>
<circle cx="118.0033" cy="248.63100000000003" r="2.1" fill="#e6a332"/>
<circle cx="130.007" cy="257.946" r="2.1" fill="#e6a332"/>
<circle cx="139.7082" cy="262.482" r="2.1" fill="#e6a332"/>
<circle cx="53.2877" cy="219.63300000000004" r="2.1" fill="#4e2170"/>
<circle cx="74.8084" cy="221.901" r="2.1" fill="#4e2170"/>
<circle cx="96.6975" cy="230.81100000000004" r="2.1" fill="#4e2170"/>
<circle cx="108.6091" cy="238.668" r="2.1" fill="#4e2170"/>
<circle cx="118.0033" cy="253.329" r="2.1" fill="#4e2170"/>
<circle cx="130.007" cy="263.454" r="2.1" fill="#4e2170"/>
<circle cx="139.7082" cy="267.18" r="2.1" fill="#4e2170"/>
<circle cx="53.2877" cy="218.58" r="2.1" fill="#4fa35a"/>
<circle cx="74.8084" cy="226.03200000000004" r="2.1" fill="#4fa35a"/>
<circle cx="96.6975" cy="237.29100000000003" r="2.1" fill="#4fa35a"/>
<circle cx="108.6091" cy="243.52800000000002" r="2.1" fill="#4fa35a"/>
<circle cx="118.0033" cy="260.457" r="2.1" fill="#4fa35a"/>
<circle cx="130.007" cy="268.557" r="2.1" fill="#4fa35a"/>
<circle cx="139.7082" cy="270.177" r="2.1" fill="#4fa35a"/>
<circle cx="53.2877" cy="211.53300000000002" r="2.1" fill="#1b4f78"/>
<circle cx="74.8084" cy="216.23100000000002" r="2.1" fill="#1b4f78"/>
<circle cx="96.6975" cy="223.52100000000002" r="2.1" fill="#1b4f78"/>
<circle cx="108.6091" cy="228.3" r="2.1" fill="#1b4f78"/>
<circle cx="118.0033" cy="242.07000000000002" r="2.1" fill="#1b4f78"/>
<circle cx="130.007" cy="250.33200000000002" r="2.1" fill="#1b4f78"/>
<circle cx="139.7082" cy="257.946" r="2.1" fill="#1b4f78"/>
<circle cx="53.2877" cy="225.22200000000004" r="2.1" fill="#c0163c"/>
<circle cx="74.8084" cy="232.91700000000003" r="2.1" fill="#c0163c"/>
<circle cx="96.6975" cy="243.69000000000003" r="2.1" fill="#c0163c"/>
<circle cx="108.6091" cy="253.57200000000003" r="2.1" fill="#c0163c"/>
<circle cx="118.0033" cy="267.99" r="2.1" fill="#c0163c"/>
<circle cx="130.007" cy="274.79400000000004" r="2.1" fill="#c0163c"/>
<circle cx="139.7082" cy="275.685" r="2.1" fill="#c0163c"/>
<line x1="159" y1="209.0" x2="167.6" y2="209.0" stroke="#1b4f78" stroke-width="1.2"/>
<circle cx="163.2" cy="209.0" r="2.1" fill="#1b4f78"/>
<text x="170.7" y="211.0" font-size="7.9" textLength="21.0" lengthAdjust="spacingAndGlyphs" fill="#1c1c1c">Vector</text>
<line x1="159" y1="220.15" x2="167.6" y2="220.15" stroke="#c0163c" stroke-width="1.2"/>
<circle cx="163.2" cy="220.15" r="2.1" fill="#c0163c"/>
<text x="170.7" y="222.45000000000002" font-size="7.9" textLength="19.2" lengthAdjust="spacingAndGlyphs" fill="#555">++++</text>
<line x1="159" y1="231.3" x2="167.6" y2="231.3" stroke="#4fa35a" stroke-width="1.2"/>
<circle cx="163.2" cy="231.3" r="2.1" fill="#4fa35a"/>
<text x="170.7" y="233.60000000000002" font-size="7.9" textLength="14.399999999999999" lengthAdjust="spacingAndGlyphs" fill="#555">+++</text>
<line x1="159" y1="242.45" x2="167.6" y2="242.45" stroke="#4e2170" stroke-width="1.2"/>
<circle cx="163.2" cy="242.45" r="2.1" fill="#4e2170"/>
<text x="170.7" y="244.75" font-size="7.9" textLength="9.6" lengthAdjust="spacingAndGlyphs" fill="#555">++</text>
<line x1="159" y1="253.6" x2="167.6" y2="253.6" stroke="#e6a332" stroke-width="1.2"/>
<circle cx="163.2" cy="253.6" r="2.1" fill="#e6a332"/>
<text x="170.7" y="255.9" font-size="7.9" textLength="4.8" lengthAdjust="spacingAndGlyphs" fill="#555">+</text>
<line x1="159" y1="264.75" x2="167.6" y2="264.75" stroke="#4fb2d8" stroke-width="1.2"/>
<circle cx="163.2" cy="264.75" r="2.1" fill="#4fb2d8"/>
<text x="170.7" y="267.05" font-size="7.9" textLength="4" lengthAdjust="spacingAndGlyphs" fill="#555">–</text>
<text x="195.6" y="200.0" font-size="7.8" textLength="54.6" lengthAdjust="spacingAndGlyphs" fill="#1c1c1c">Doxycycline μM:</text>
<text x="222.6" y="212.2" font-size="7.8" text-anchor="end" fill="#1c1c1c">0.1</text>
<text x="222.6" y="222.64999999999998" font-size="7.8" text-anchor="end" fill="#1c1c1c">0.1</text>
<text x="222.6" y="233.1" font-size="7.8" text-anchor="end" fill="#1c1c1c">0.05</text>
<text x="222.6" y="243.54999999999998" font-size="7.8" text-anchor="end" fill="#1c1c1c">0.02</text>
<text x="222.6" y="253.99999999999997" font-size="7.8" text-anchor="end" fill="#1c1c1c">0.01</text>
<text x="222.6" y="264.45000000000005" font-size="7.8" text-anchor="end" fill="#1c1c1c">0.00</text>
<path d="M226.4,208.2 L236.8,208.2 L226.8,265.4 Z" fill="url(#tri)" stroke="#b4b4b8" stroke-width="0.4"/>
<text x="267.5" y="188.6" font-size="10.6" font-weight="bold" fill="#111">E</text>
<line x1="296.9" y1="192.70000000000002" x2="296.9" y2="293.90000000000003" stroke="#333333" stroke-width="1.45"/>
<line x1="293.9" y1="293.3" x2="296.9" y2="293.3" stroke="#333333" stroke-width="1.2"/>
<text x="291.0" y="295.7" font-size="8.5" text-anchor="end" textLength="10.2" lengthAdjust="spacingAndGlyphs" fill="#1c1c1c">0.0</text>
<line x1="293.9" y1="273.7" x2="296.9" y2="273.7" stroke="#333333" stroke-width="1.2"/>
<text x="291.0" y="276.09999999999997" font-size="8.5" text-anchor="end" textLength="10.2" lengthAdjust="spacingAndGlyphs" fill="#1c1c1c">0.2</text>
<line x1="293.9" y1="254.10000000000002" x2="296.9" y2="254.10000000000002" stroke="#333333" stroke-width="1.2"/>
<text x="291.0" y="256.5" font-size="8.5" text-anchor="end" textLength="10.2" lengthAdjust="spacingAndGlyphs" fill="#1c1c1c">0.4</text>
<line x1="293.9" y1="234.5" x2="296.9" y2="234.5" stroke="#333333" stroke-width="1.2"/>
<text x="291.0" y="236.9" font-size="8.5" text-anchor="end" textLength="10.2" lengthAdjust="spacingAndGlyphs" fill="#1c1c1c">0.6</text>
<line x1="293.9" y1="214.9" x2="296.9" y2="214.9" stroke="#333333" stroke-width="1.2"/>
<text x="291.0" y="217.3" font-size="8.5" text-anchor="end" textLength="10.2" lengthAdjust="spacingAndGlyphs" fill="#1c1c1c">0.8</text>
<line x1="293.9" y1="195.3" x2="296.9" y2="195.3" stroke="#333333" stroke-width="1.2"/>
<text x="291.0" y="197.70000000000002" font-size="8.5" text-anchor="end" textLength="10.2" lengthAdjust="spacingAndGlyphs" fill="#1c1c1c">1.0</text>
<line x1="294.1" y1="293.3" x2="422.5" y2="293.3" stroke="#333333" stroke-width="1.45"/>
<line x1="297.1" y1="293.3" x2="297.1" y2="296.3" stroke="#333333" stroke-width="1.2"/>
<text x="297.1" y="305.6" font-size="8.3" text-anchor="middle" fill="#1c1c1c">−2</text>
<line x1="327.7" y1="293.3" x2="327.7" y2="296.3" stroke="#333333" stroke-width="1.2"/>
<text x="327.7" y="305.6" font-size="8.3" text-anchor="middle" fill="#1c1c1c">−1</text>
<line x1="358.3" y1="293.3" x2="358.3" y2="296.3" stroke="#333333" stroke-width="1.2"/>
<text x="358.3" y="305.6" font-size="8.3" text-anchor="middle" fill="#1c1c1c">0</text>
<line x1="388.90000000000003" y1="293.3" x2="388.90000000000003" y2="296.3" stroke="#333333" stroke-width="1.2"/>
<text x="388.90000000000003" y="305.6" font-size="8.3" text-anchor="middle" fill="#1c1c1c">1</text>
<line x1="419.5" y1="293.3" x2="419.5" y2="296.3" stroke="#333333" stroke-width="1.2"/>
<text x="419.5" y="305.6" font-size="8.3" text-anchor="middle" fill="#1c1c1c">2</text>
<text transform="translate(273.5,242.5) rotate(-90)" font-size="8.6" text-anchor="middle" textLength="55.5" lengthAdjust="spacingAndGlyphs" fill="#1c1c1c">Relative viability</text>
<text x="331.4" y="318.6" font-size="8.2" textLength="35.3" lengthAdjust="spacingAndGlyphs" fill="#1c1c1c">[ara-C] Log</text>
<text x="367.0" y="321.8" font-size="6.4" textLength="6.6" lengthAdjust="spacingAndGlyphs" fill="#1c1c1c">10</text>
<text x="373.7" y="318.6" font-size="8.2" textLength="12.5" lengthAdjust="spacingAndGlyphs" fill="#1c1c1c">μM</text>
<polyline points="312.71,209.00 314.14,209.05 315.57,209.11 317.01,209.17 318.44,209.24 319.87,209.32 321.30,209.41 322.74,209.50 324.17,209.61 325.60,209.72 327.04,209.85 328.47,209.99 329.90,210.15 331.34,210.32 332.77,210.51 334.20,210.72 335.64,210.96 337.07,211.21 338.50,211.49 339.93,211.80 341.37,212.14 342.80,212.52 344.23,212.93 345.67,213.38 347.10,213.87 348.53,214.40 349.97,214.99 351.40,215.63 352.83,216.32 354.27,217.07 355.70,217.88 357.13,218.75 358.57,219.69 360.00,220.70 361.43,221.78 362.86,222.93 364.30,224.16 365.73,225.45 367.16,226.82 368.60,228.25 370.03,229.75 371.46,231.31 372.90,232.93 374.33,234.60 375.76,236.31 377.20,238.06 378.63,239.83 380.06,241.62 381.49,243.42 382.93,245.22 384.36,247.00 385.79,248.77 387.23,250.50 388.66,252.20 390.09,253.85 391.53,255.44 392.96,256.98 394.39,258.46 395.83,259.87 397.26,261.20 398.69,262.47" fill="none" stroke="#2d5d88" stroke-width="1.3" stroke-linejoin="round"/>
<polyline points="312.71,224.37 314.14,224.63 315.57,224.91 317.01,225.22 318.44,225.55 319.87,225.92 321.30,226.32 322.74,226.75 324.17,227.22 325.60,227.73 327.04,228.28 328.47,228.86 329.90,229.50 331.34,230.17 332.77,230.89 334.20,231.65 335.64,232.46 337.07,233.31 338.50,234.20 339.93,235.13 341.37,236.10 342.80,237.11 344.23,238.14 345.67,239.20 347.10,240.28 348.53,241.37 349.97,242.48 351.40,243.59 352.83,244.69 354.27,245.79 355.70,246.88 357.13,247.94 358.57,248.98 360.00,249.99 361.43,250.97 362.86,251.91 364.30,252.82 365.73,253.68 367.16,254.50 368.60,255.27 370.03,256.00 371.46,256.68 372.90,257.33 374.33,257.92 375.76,258.48 377.20,259.00 378.63,259.48 380.06,259.92 381.49,260.33 382.93,260.70 384.36,261.05 385.79,261.36 387.23,261.65 388.66,261.91 390.09,262.15 391.53,262.37 392.96,262.57 394.39,262.75 395.83,262.92 397.26,263.07 398.69,263.21" fill="none" stroke="#bb2443" stroke-width="1.3" stroke-linejoin="round"/>
<polyline points="312.71,235.58 314.14,235.94 315.57,236.33 317.01,236.73 318.44,237.15 319.87,237.58 321.30,238.04 322.74,238.52 324.17,239.02 325.60,239.54 327.04,240.07 328.47,240.63 329.90,241.20 331.34,241.78 332.77,242.38 334.20,243.00 335.64,243.63 337.07,244.27 338.50,244.92 339.93,245.57 341.37,246.24 342.80,246.90 344.23,247.57 345.67,248.24 347.10,248.91 348.53,249.57 349.97,250.23 351.40,250.88 352.83,251.53 354.27,252.16 355.70,252.78 357.13,253.38 358.57,253.98 360.00,254.55 361.43,255.11 362.86,255.65 364.30,256.17 365.73,256.68 367.16,257.16 368.60,257.63 370.03,258.07 371.46,258.50 372.90,258.91 374.33,259.29 375.76,259.66 377.20,260.01 378.63,260.34 380.06,260.66 381.49,260.95 382.93,261.23 384.36,261.50 385.79,261.75 387.23,261.98 388.66,262.20 390.09,262.41 391.53,262.60 392.96,262.78 394.39,262.96 395.83,263.11 397.26,263.26 398.69,263.40" fill="none" stroke="#bb2443" stroke-width="1.2" stroke-dasharray="2.2,1.6" stroke-linejoin="round"/>
<polyline points="312.71,239.74 314.14,240.02 315.57,240.34 317.01,240.68 318.44,241.05 319.87,241.46 321.30,241.91 322.74,242.38 324.17,242.90 325.60,243.45 327.04,244.04 328.47,244.67 329.90,245.34 331.34,246.04 332.77,246.77 334.20,247.53 335.64,248.32 337.07,249.13 338.50,249.96 339.93,250.80 341.37,251.65 342.80,252.50 344.23,253.35 345.67,254.19 347.10,255.01 348.53,255.81 349.97,256.59 351.40,257.34 352.83,258.06 354.27,258.74 355.70,259.39 357.13,260.01 358.57,260.58 360.00,261.12 361.43,261.62 362.86,262.08 364.30,262.51 365.73,262.90 367.16,263.26 368.60,263.59 370.03,263.89 371.46,264.17 372.90,264.42 374.33,264.64 375.76,264.85 377.20,265.03 378.63,265.20 380.06,265.35 381.49,265.49 382.93,265.61 384.36,265.72 385.79,265.82 387.23,265.90 388.66,265.98 390.09,266.05 391.53,266.12 392.96,266.17 394.39,266.22 395.83,266.27 397.26,266.31 398.69,266.35" fill="none" stroke="#2d5d88" stroke-width="1.2" stroke-dasharray="2.2,1.6" stroke-linejoin="round"/>
<line x1="312.706" y1="202.4" x2="312.706" y2="208.1" stroke="#2d5d88" stroke-width="0.9"/>
<line x1="311.106" y1="202.4" x2="314.30600000000004" y2="202.4" stroke="#2d5d88" stroke-width="0.9"/>
<line x1="311.106" y1="208.1" x2="314.30600000000004" y2="208.1" stroke="#2d5d88" stroke-width="0.9"/>
<line x1="334.432" y1="208.1" x2="334.432" y2="220.5" stroke="#2d5d88" stroke-width="0.9"/>
<line x1="332.832" y1="208.1" x2="336.03200000000004" y2="208.1" stroke="#2d5d88" stroke-width="0.9"/>
<line x1="332.832" y1="220.5" x2="336.03200000000004" y2="220.5" stroke="#2d5d88" stroke-width="0.9"/>
<line x1="355.85200000000003" y1="205.5" x2="355.85200000000003" y2="234.8" stroke="#2d5d88" stroke-width="0.9"/>
<line x1="354.252" y1="205.5" x2="357.45200000000006" y2="205.5" stroke="#2d5d88" stroke-width="0.9"/>
<line x1="354.252" y1="234.8" x2="357.45200000000006" y2="234.8" stroke="#2d5d88" stroke-width="0.9"/>
<line x1="377.272" y1="226.7" x2="377.272" y2="249" stroke="#2d5d88" stroke-width="0.9"/>
<line x1="375.67199999999997" y1="226.7" x2="378.872" y2="226.7" stroke="#2d5d88" stroke-width="0.9"/>
<line x1="375.67199999999997" y1="249" x2="378.872" y2="249" stroke="#2d5d88" stroke-width="0.9"/>
<line x1="398.692" y1="256" x2="398.692" y2="268" stroke="#2d5d88" stroke-width="0.9"/>
<line x1="397.092" y1="256" x2="400.29200000000003" y2="256" stroke="#2d5d88" stroke-width="0.9"/>
<line x1="397.092" y1="268" x2="400.29200000000003" y2="268" stroke="#2d5d88" stroke-width="0.9"/>
<line x1="312.706" y1="213.2" x2="312.706" y2="234" stroke="#bb2443" stroke-width="0.9"/>
<line x1="311.106" y1="213.2" x2="314.30600000000004" y2="213.2" stroke="#bb2443" stroke-width="0.9"/>
<line x1="311.106" y1="234" x2="314.30600000000004" y2="234" stroke="#bb2443" stroke-width="0.9"/>
<line x1="334.432" y1="225" x2="334.432" y2="240" stroke="#bb2443" stroke-width="0.9"/>
<line x1="332.832" y1="225" x2="336.03200000000004" y2="225" stroke="#bb2443" stroke-width="0.9"/>
<line x1="332.832" y1="240" x2="336.03200000000004" y2="240" stroke="#bb2443" stroke-width="0.9"/>
<line x1="355.85200000000003" y1="241.3" x2="355.85200000000003" y2="252" stroke="#bb2443" stroke-width="0.9"/>
<line x1="354.252" y1="241.3" x2="357.45200000000006" y2="241.3" stroke="#bb2443" stroke-width="0.9"/>
<line x1="354.252" y1="252" x2="357.45200000000006" y2="252" stroke="#bb2443" stroke-width="0.9"/>
<line x1="377.272" y1="249.4" x2="377.272" y2="270" stroke="#bb2443" stroke-width="0.9"/>
<line x1="375.67199999999997" y1="249.4" x2="378.872" y2="249.4" stroke="#bb2443" stroke-width="0.9"/>
<line x1="375.67199999999997" y1="270" x2="378.872" y2="270" stroke="#bb2443" stroke-width="0.9"/>
<line x1="398.692" y1="257" x2="398.692" y2="268" stroke="#bb2443" stroke-width="0.9"/>
<line x1="397.092" y1="257" x2="400.29200000000003" y2="257" stroke="#bb2443" stroke-width="0.9"/>
<line x1="397.092" y1="268" x2="400.29200000000003" y2="268" stroke="#bb2443" stroke-width="0.9"/>
<line x1="312.706" y1="228" x2="312.706" y2="240" stroke="#bb2443" stroke-width="0.9"/>
<line x1="311.106" y1="228" x2="314.30600000000004" y2="228" stroke="#bb2443" stroke-width="0.9"/>
<line x1="311.106" y1="240" x2="314.30600000000004" y2="240" stroke="#bb2443" stroke-width="0.9"/>
<line x1="334.432" y1="238" x2="334.432" y2="251" stroke="#bb2443" stroke-width="0.9"/>
<line x1="332.832" y1="238" x2="336.03200000000004" y2="238" stroke="#bb2443" stroke-width="0.9"/>
<line x1="332.832" y1="251" x2="336.03200000000004" y2="251" stroke="#bb2443" stroke-width="0.9"/>
<line x1="355.85200000000003" y1="246" x2="355.85200000000003" y2="256" stroke="#bb2443" stroke-width="0.9"/>
<line x1="354.252" y1="246" x2="357.45200000000006" y2="246" stroke="#bb2443" stroke-width="0.9"/>
<line x1="354.252" y1="256" x2="357.45200000000006" y2="256" stroke="#bb2443" stroke-width="0.9"/>
<line x1="377.272" y1="255" x2="377.272" y2="267" stroke="#bb2443" stroke-width="0.9"/>
<line x1="375.67199999999997" y1="255" x2="378.872" y2="255" stroke="#bb2443" stroke-width="0.9"/>
<line x1="375.67199999999997" y1="267" x2="378.872" y2="267" stroke="#bb2443" stroke-width="0.9"/>
<line x1="398.692" y1="258" x2="398.692" y2="268" stroke="#bb2443" stroke-width="0.9"/>
<line x1="397.092" y1="258" x2="400.29200000000003" y2="258" stroke="#bb2443" stroke-width="0.9"/>
<line x1="397.092" y1="268" x2="400.29200000000003" y2="268" stroke="#bb2443" stroke-width="0.9"/>
<line x1="312.706" y1="225" x2="312.706" y2="253.3" stroke="#2d5d88" stroke-width="0.9"/>
<line x1="311.106" y1="225" x2="314.30600000000004" y2="225" stroke="#2d5d88" stroke-width="0.9"/>
<line x1="311.106" y1="253.3" x2="314.30600000000004" y2="253.3" stroke="#2d5d88" stroke-width="0.9"/>
<line x1="334.432" y1="224" x2="334.432" y2="269.8" stroke="#2d5d88" stroke-width="0.9"/>
<line x1="332.832" y1="224" x2="336.03200000000004" y2="224" stroke="#2d5d88" stroke-width="0.9"/>
<line x1="332.832" y1="269.8" x2="336.03200000000004" y2="269.8" stroke="#2d5d88" stroke-width="0.9"/>
<line x1="355.85200000000003" y1="240" x2="355.85200000000003" y2="276.5" stroke="#2d5d88" stroke-width="0.9"/>
<line x1="354.252" y1="240" x2="357.45200000000006" y2="240" stroke="#2d5d88" stroke-width="0.9"/>
<line x1="354.252" y1="276.5" x2="357.45200000000006" y2="276.5" stroke="#2d5d88" stroke-width="0.9"/>
<line x1="377.272" y1="255" x2="377.272" y2="273.3" stroke="#2d5d88" stroke-width="0.9"/>
<line x1="375.67199999999997" y1="255" x2="378.872" y2="255" stroke="#2d5d88" stroke-width="0.9"/>
<line x1="375.67199999999997" y1="273.3" x2="378.872" y2="273.3" stroke="#2d5d88" stroke-width="0.9"/>
<line x1="398.692" y1="250.9" x2="398.692" y2="274" stroke="#2d5d88" stroke-width="0.9"/>
<line x1="397.092" y1="250.9" x2="400.29200000000003" y2="250.9" stroke="#2d5d88" stroke-width="0.9"/>
<line x1="397.092" y1="274" x2="400.29200000000003" y2="274" stroke="#2d5d88" stroke-width="0.9"/>
<path d="M310.30600000000004,205.5 L312.706,203.1 L315.106,205.5 L312.706,207.9 Z" fill="#1c4a74"/>
<path d="M332.03200000000004,214.6 L334.432,212.2 L336.832,214.6 L334.432,217.0 Z" fill="#1c4a74"/>
<path d="M353.45200000000006,219.7 L355.85200000000003,217.29999999999998 L358.252,219.7 L355.85200000000003,222.1 Z" fill="#1c4a74"/>
<path d="M374.872,238.1 L377.272,235.7 L379.67199999999997,238.1 L377.272,240.5 Z" fill="#1c4a74"/>
<path d="M396.29200000000003,262.5 L398.692,260.1 L401.092,262.5 L398.692,264.9 Z" fill="#1c4a74"/>
<path d="M310.30600000000004,224 L312.706,221.6 L315.106,224 L312.706,226.4 Z" fill="#c1143b"/>
<path d="M332.03200000000004,232.8 L334.432,230.4 L336.832,232.8 L334.432,235.20000000000002 Z" fill="#c1143b"/>
<path d="M353.45200000000006,246.7 L355.85200000000003,244.29999999999998 L358.252,246.7 L355.85200000000003,249.1 Z" fill="#c1143b"/>
<path d="M374.872,260.2 L377.272,257.8 L379.67199999999997,260.2 L377.272,262.59999999999997 Z" fill="#c1143b"/>
<path d="M396.29200000000003,262.5 L398.692,260.1 L401.092,262.5 L398.692,264.9 Z" fill="#c1143b"/>
<path d="M310.30600000000004,234 L312.706,231.6 L315.106,234 L312.706,236.4 Z" fill="#c1143b"/>
<path d="M332.03200000000004,244.7 L334.432,242.29999999999998 L336.832,244.7 L334.432,247.1 Z" fill="#c1143b"/>
<path d="M353.45200000000006,251.3 L355.85200000000003,248.9 L358.252,251.3 L355.85200000000003,253.70000000000002 Z" fill="#c1143b"/>
<path d="M374.872,261 L377.272,258.6 L379.67199999999997,261 L377.272,263.4 Z" fill="#c1143b"/>
<path d="M396.29200000000003,263 L398.692,260.6 L401.092,263 L398.692,265.4 Z" fill="#c1143b"/>
<path d="M310.30600000000004,239.3 L312.706,236.9 L315.106,239.3 L312.706,241.70000000000002 Z" fill="#1c4a74"/>
<path d="M332.03200000000004,247 L334.432,244.6 L336.832,247 L334.432,249.4 Z" fill="#1c4a74"/>
<path d="M353.45200000000006,258.6 L355.85200000000003,256.20000000000005 L358.252,258.6 L355.85200000000003,261.0 Z" fill="#1c4a74"/>
<path d="M374.872,264.3 L377.272,261.90000000000003 L379.67199999999997,264.3 L377.272,266.7 Z" fill="#1c4a74"/>
<path d="M396.29200000000003,266.8 L398.692,264.40000000000003 L401.092,266.8 L398.692,269.2 Z" fill="#1c4a74"/>
<line x1="403.8" y1="209.0" x2="412.3" y2="209.0" stroke="#1c4a74" stroke-width="1.2"/>
<path d="M405.7,209.0 L408,206.7 L410.3,209.0 L408,211.3 Z" fill="#1c4a74"/>
<line x1="408" y1="206.4" x2="408" y2="211.6" stroke="#1c4a74" stroke-width="0.8"/>
<text x="415.4" y="212.0" font-size="8.0" textLength="20.8" lengthAdjust="spacingAndGlyphs" fill="#1c1c1c">JVM-2</text>
<text x="436.4" y="208.6" font-size="5.7" textLength="15.8" lengthAdjust="spacingAndGlyphs" fill="#1c1c1c">vector</text>
<text x="454.6" y="212.0" font-size="8.0" textLength="16.2" lengthAdjust="spacingAndGlyphs" fill="#1c1c1c">+ dX</text>
<line x1="403.8" y1="220.0" x2="412.3" y2="220.0" stroke="#1c4a74" stroke-width="1.2"/>
<path d="M405.7,220.0 L408,217.7 L410.3,220.0 L408,222.3 Z" fill="#1c4a74"/>
<line x1="408" y1="217.4" x2="408" y2="222.6" stroke="#1c4a74" stroke-width="0.8"/>
<text x="415.4" y="223.1" font-size="8.0" textLength="20.8" lengthAdjust="spacingAndGlyphs" fill="#1c1c1c">JVM-2</text>
<text x="436.4" y="219.7" font-size="5.7" textLength="15.8" lengthAdjust="spacingAndGlyphs" fill="#1c1c1c">vector</text>
<text x="454.6" y="223.1" font-size="8.0" textLength="20.0" lengthAdjust="spacingAndGlyphs" fill="#1c1c1c">+ Vpx</text>
<line x1="403.8" y1="231.2" x2="412.3" y2="231.2" stroke="#c1143b" stroke-width="1.2"/>
<path d="M405.7,231.2 L408,228.89999999999998 L410.3,231.2 L408,233.5 Z" fill="#c1143b"/>
<line x1="408" y1="228.6" x2="408" y2="233.79999999999998" stroke="#c1143b" stroke-width="0.8"/>
<text x="415.4" y="234.0" font-size="8.0" textLength="20.8" lengthAdjust="spacingAndGlyphs" fill="#1c1c1c">JVM-2</text>
<text x="436.4" y="230.6" font-size="5.7" textLength="18.8" lengthAdjust="spacingAndGlyphs" fill="#1c1c1c">iSOX11</text>
<text x="458.2" y="234.0" font-size="8.0" textLength="15.3" lengthAdjust="spacingAndGlyphs" fill="#1c1c1c">+ dX</text>
<line x1="403.8" y1="242.1" x2="412.3" y2="242.1" stroke="#c1143b" stroke-width="1.2"/>
<path d="M405.7,242.1 L408,239.79999999999998 L410.3,242.1 L408,244.4 Z" fill="#c1143b"/>
<line x1="408" y1="239.5" x2="408" y2="244.7" stroke="#c1143b" stroke-width="0.8"/>
<text x="415.4" y="244.9" font-size="8.0" textLength="20.8" lengthAdjust="spacingAndGlyphs" fill="#1c1c1c">JVM-2</text>
<text x="436.4" y="241.5" font-size="5.7" textLength="18.8" lengthAdjust="spacingAndGlyphs" fill="#1c1c1c">iSOX11</text>
<text x="458.2" y="244.9" font-size="8.0" textLength="18.7" lengthAdjust="spacingAndGlyphs" fill="#1c1c1c">+ Vpx</text>
<text x="480.8" y="200.0" font-size="7.9" textLength="32.5" lengthAdjust="spacingAndGlyphs" fill="#1c1c1c">IC50 (μM)</text>
<text x="489.8" y="211.0" font-size="7.9" fill="#1c1c1c">4.7</text>
<text x="489.8" y="222.4" font-size="7.9" fill="#1c1c1c">0.28</text>
<text x="489.8" y="233.0" font-size="7.9" fill="#1c1c1c">0.49</text>
<text x="489.8" y="244.3" font-size="7.9" fill="#1c1c1c">0.3</text>
<text x="93.6" y="349.9" font-size="10.6" font-weight="bold" fill="#111">F</text>
<text x="176.5" y="364.2" font-size="8.4" text-anchor="end" textLength="55.4" lengthAdjust="spacingAndGlyphs" fill="#1c1c1c">Cleaved PARP1</text>
<text x="176.5" y="391.0" font-size="8.4" text-anchor="end" textLength="24.6" lengthAdjust="spacingAndGlyphs" fill="#1c1c1c">SOX11</text>
<text x="176.5" y="415.8" font-size="8.4" text-anchor="end" textLength="33" lengthAdjust="spacingAndGlyphs" fill="#1c1c1c">SAMHD1</text>
<text x="176.5" y="440.3" font-size="8.4" text-anchor="end" textLength="73" lengthAdjust="spacingAndGlyphs" fill="#1c1c1c">Phospho ChK2 (T68)</text>
<text x="176.5" y="462.8" font-size="8.4" text-anchor="end" textLength="27.5" lengthAdjust="spacingAndGlyphs" fill="#1c1c1c">GAPDH</text>
<text x="176.5" y="492.5" font-size="8.4" text-anchor="end" textLength="66.5" lengthAdjust="spacingAndGlyphs" fill="#1c1c1c">Cleaved capsase 3</text>
<text x="176.5" y="526.2" font-size="8.4" text-anchor="end" textLength="29.4" lengthAdjust="spacingAndGlyphs" fill="#1c1c1c">γ-H2A.X</text>
<text x="176.5" y="543.0" font-size="8.4" text-anchor="end" textLength="50.6" lengthAdjust="spacingAndGlyphs" fill="#1c1c1c">ara-C (0.5μM):</text>
<rect x="180.1" y="352.1" width="135.4" height="15.5" fill="#e9e9e9"/>
<rect x="180.1" y="376.2" width="135.4" height="23.1" fill="#efefef"/>
<rect x="180.1" y="404.0" width="135.4" height="17.6" fill="#e7e7e7"/>
<rect x="180.1" y="429.7" width="135.4" height="15.5" fill="#c6c6c6"/>
<rect x="180.1" y="454.0" width="135.4" height="14.2" fill="#dedede"/>
<rect x="180.1" y="472.9" width="135.4" height="32.5" fill="#eeeeee"/>
<rect x="180.1" y="512.4" width="135.4" height="18.6" fill="#eaeaea"/>
<rect x="187.6" y="360.7" width="9" height="1.6" rx="0.8" fill="#0a0a0a" fill-opacity="0.18" filter="url(#b08)"/>
<rect x="203.9" y="360.7" width="9" height="1.6" rx="0.8" fill="#0a0a0a" fill-opacity="0.18" filter="url(#b08)"/>
<rect x="220.2" y="360.5" width="9" height="1.6" rx="0.8" fill="#0a0a0a" fill-opacity="0.2" filter="url(#b08)"/>
<rect x="235.0" y="360.0" width="12" height="2.8" rx="1.4" fill="#0a0a0a" fill-opacity="0.95" filter="url(#b08)"/>
<rect x="251.3" y="359.5" width="12" height="2.8" rx="1.4" fill="#0a0a0a" fill-opacity="0.95" filter="url(#b08)"/>
<rect x="267.6" y="358.8" width="12" height="2.8" rx="1.4" fill="#0a0a0a" fill-opacity="1" filter="url(#b08)"/>
<rect x="283.9" y="358.0" width="12" height="2.8" rx="1.4" fill="#0a0a0a" fill-opacity="1" filter="url(#b08)"/>
<rect x="300.2" y="357.5" width="12" height="2.8" rx="1.4" fill="#0a0a0a" fill-opacity="1" filter="url(#b08)"/>
<rect x="250.2" y="385.7" width="14.2" height="6.6" rx="2.2" fill="#0a0a0a" fill-opacity="1.0" filter="url(#b08)"/>
<rect x="266.8" y="385.8" width="13.6" height="6.2" rx="2.2" fill="#0a0a0a" fill-opacity="1.0" filter="url(#b08)"/>
<rect x="283.1" y="387.1" width="13.6" height="6.0" rx="2.2" fill="#0a0a0a" fill-opacity="1.0" filter="url(#b08)"/>
<rect x="299.9" y="388.4" width="12.5" height="4.8" rx="2.2" fill="#0a0a0a" fill-opacity="1.0" filter="url(#b08)"/>
<rect x="186.0" y="410.9" width="12.2" height="5.6" rx="2.2" fill="#0a0a0a" fill-opacity="1" filter="url(#b08)"/>
<rect x="202.2" y="410.9" width="12.4" height="5.6" rx="2.2" fill="#0a0a0a" fill-opacity="1" filter="url(#b08)"/>
<rect x="219.2" y="412.5" width="11" height="4" rx="2.0" fill="#0a0a0a" fill-opacity="0.1" filter="url(#b08)"/>
<rect x="235.5" y="413.0" width="11" height="4" rx="2.0" fill="#0a0a0a" fill-opacity="0.18" filter="url(#b08)"/>
<rect x="250.8" y="410.4" width="13" height="7.6" rx="2.2" fill="#0a0a0a" fill-opacity="1" filter="url(#b08)"/>
<rect x="266.6" y="410.4" width="14" height="7.6" rx="2.2" fill="#0a0a0a" fill-opacity="1" filter="url(#b08)"/>
<rect x="284.4" y="413.0" width="11" height="4" rx="2.0" fill="#0a0a0a" fill-opacity="0.1" filter="url(#b08)"/>
<rect x="300.7" y="413.2" width="11" height="4" rx="2.0" fill="#0a0a0a" fill-opacity="0.18" filter="url(#b08)"/>
<rect x="185.5" y="430.6" width="13.2" height="14" fill="#555" fill-opacity="0.55" filter="url(#b12)"/>
<rect x="201.8" y="430.6" width="13.2" height="14" fill="#555" fill-opacity="0.6" filter="url(#b12)"/>
<rect x="218.1" y="430.6" width="13.2" height="14" fill="#555" fill-opacity="0.6" filter="url(#b12)"/>
<rect x="234.4" y="430.6" width="13.2" height="14" fill="#555" fill-opacity="0.3" filter="url(#b12)"/>
<rect x="250.7" y="430.6" width="13.2" height="14" fill="#555" fill-opacity="0.32" filter="url(#b12)"/>
<rect x="267.0" y="430.6" width="13.2" height="14" fill="#555" fill-opacity="0.5" filter="url(#b12)"/>
<rect x="283.3" y="430.6" width="13.2" height="14" fill="#555" fill-opacity="0.14" filter="url(#b12)"/>
<rect x="299.6" y="430.6" width="13.2" height="14" fill="#555" fill-opacity="0.22" filter="url(#b12)"/>
<rect x="209.0" y="434.0" width="6" height="6" fill="#333" fill-opacity="0.35" filter="url(#b15)"/>
<rect x="225.0" y="432.5" width="6" height="7" fill="#333" fill-opacity="0.25" filter="url(#b15)"/>
<rect x="188.0" y="435.0" width="8" height="6" fill="#333" fill-opacity="0.2" filter="url(#b15)"/>
<rect x="271.5" y="434.5" width="7" height="5" fill="#333" fill-opacity="0.25" filter="url(#b15)"/>
<rect x="234.4" y="436.8" width="13.2" height="4.4" rx="2.2" fill="#0a0a0a" fill-opacity="1.0" filter="url(#b08)"/>
<rect x="300.1" y="438.6" width="12.2" height="3.4" rx="1.7" fill="#0a0a0a" fill-opacity="0.95" filter="url(#b08)"/>
<rect x="268.6" y="437.0" width="10" height="3" rx="1.5" fill="#0a0a0a" fill-opacity="0.2" filter="url(#b08)"/>
<rect x="186.1" y="429.9" width="12" height="1.2" rx="0.6" fill="#0a0a0a" fill-opacity="0.7" filter="url(#b06)"/>
<rect x="202.4" y="429.9" width="12" height="1.2" rx="0.6" fill="#0a0a0a" fill-opacity="0.65" filter="url(#b06)"/>
<rect x="218.7" y="429.9" width="12" height="1.2" rx="0.6" fill="#0a0a0a" fill-opacity="0.5" filter="url(#b06)"/>
<rect x="267.6" y="430.0" width="12" height="1.0" rx="0.5" fill="#0a0a0a" fill-opacity="0.35" filter="url(#b06)"/>
<rect x="184.9" y="457.7" width="14.4" height="5.8" rx="2.2" fill="#0a0a0a" fill-opacity="1.0" filter="url(#b06)"/>
<rect x="201.2" y="457.8" width="14.4" height="5.6" rx="2.2" fill="#0a0a0a" fill-opacity="1.0" filter="url(#b06)"/>
<rect x="217.5" y="457.7" width="14.4" height="5.8" rx="2.2" fill="#0a0a0a" fill-opacity="1.0" filter="url(#b06)"/>
<rect x="233.8" y="457.7" width="14.4" height="5.4" rx="2.2" fill="#0a0a0a" fill-opacity="1.0" filter="url(#b06)"/>
<rect x="250.1" y="456.9" width="14.4" height="5.0" rx="2.2" fill="#0a0a0a" fill-opacity="1.0" filter="url(#b06)"/>
<rect x="266.4" y="456.5" width="14.4" height="5.0" rx="2.2" fill="#0a0a0a" fill-opacity="1.0" filter="url(#b06)"/>
<rect x="282.7" y="456.3" width="14.4" height="4.8" rx="2.2" fill="#0a0a0a" fill-opacity="1.0" filter="url(#b06)"/>
<rect x="299.0" y="455.7" width="14.4" height="5.0" rx="2.2" fill="#0a0a0a" fill-opacity="1.0" filter="url(#b06)"/>
<rect x="250.8" y="465.3" width="13" height="1.8" rx="0.9" fill="#0a0a0a" fill-opacity="0.3" filter="url(#b08)"/>
<rect x="267.1" y="465.3" width="13" height="1.8" rx="0.9" fill="#0a0a0a" fill-opacity="0.3" filter="url(#b08)"/>
<rect x="283.4" y="465.3" width="13" height="1.8" rx="0.9" fill="#0a0a0a" fill-opacity="0.42" filter="url(#b08)"/>
<rect x="299.7" y="465.3" width="13" height="1.8" rx="0.9" fill="#0a0a0a" fill-opacity="0.42" filter="url(#b08)"/>
<rect x="186.6" y="476.8" width="11" height="4" rx="2.0" fill="#0a0a0a" fill-opacity="0.05" filter="url(#b15)"/>
<rect x="202.9" y="476.8" width="11" height="4" rx="2.0" fill="#0a0a0a" fill-opacity="0.06" filter="url(#b15)"/>
<rect x="219.2" y="476.8" width="11" height="4" rx="2.0" fill="#0a0a0a" fill-opacity="0.08" filter="url(#b15)"/>
<rect x="235.5" y="476.8" width="11" height="4" rx="2.0" fill="#0a0a0a" fill-opacity="0.28" filter="url(#b15)"/>
<rect x="251.8" y="476.8" width="11" height="4" rx="2.0" fill="#0a0a0a" fill-opacity="0.18" filter="url(#b15)"/>
<rect x="268.1" y="476.8" width="11" height="4" rx="2.0" fill="#0a0a0a" fill-opacity="0.18" filter="url(#b15)"/>
<rect x="284.4" y="476.8" width="11" height="4" rx="2.0" fill="#0a0a0a" fill-opacity="0.1" filter="url(#b15)"/>
<rect x="300.7" y="476.8" width="11" height="4" rx="2.0" fill="#0a0a0a" fill-opacity="0.2" filter="url(#b15)"/>
<rect x="186.6" y="494.9" width="11" height="3" rx="1.5" fill="#0a0a0a" fill-opacity="0.22" filter="url(#b08)"/>
<rect x="202.4" y="494.4" width="12" height="3.6" rx="1.8" fill="#0a0a0a" fill-opacity="0.45" filter="url(#b08)"/>
<rect x="219.2" y="495.0" width="11" height="3" rx="1.5" fill="#0a0a0a" fill-opacity="0.3" filter="url(#b08)"/>
<rect x="233.9" y="491.6" width="14.2" height="9.5" rx="2.2" fill="#0a0a0a" fill-opacity="1" filter="url(#b08)"/>
<rect x="251.8" y="495.0" width="11" height="3" rx="1.5" fill="#0a0a0a" fill-opacity="0.3" filter="url(#b08)"/>
<rect x="266.9" y="492.9" width="13.5" height="5.5" rx="2.2" fill="#0a0a0a" fill-opacity="0.95" filter="url(#b08)"/>
<rect x="283.6" y="493.6" width="12.5" height="4.5" rx="2.2" fill="#0a0a0a" fill-opacity="0.85" filter="url(#b08)"/>
<rect x="299.2" y="490.4" width="14" height="8.6" rx="2.2" fill="#0a0a0a" fill-opacity="1" filter="url(#b08)"/>
<rect x="187.1" y="523.0" width="10" height="2.4" rx="1.2" fill="#0a0a0a" fill-opacity="0.12" filter="url(#b08)"/>
<rect x="202.7" y="522.4" width="11.5" height="3.2" rx="1.6" fill="#0a0a0a" fill-opacity="0.55" filter="url(#b08)"/>
<rect x="219.7" y="523.0" width="10" height="2.6" rx="1.3" fill="#0a0a0a" fill-opacity="0.18" filter="url(#b08)"/>
<rect x="233.9" y="520.5" width="14.2" height="8" rx="2.2" fill="#0a0a0a" fill-opacity="1" filter="url(#b08)"/>
<rect x="251.3" y="522.7" width="12" height="3.4" rx="1.7" fill="#0a0a0a" fill-opacity="0.6" filter="url(#b08)"/>
<rect x="266.9" y="521.7" width="13.5" height="5" rx="2.2" fill="#0a0a0a" fill-opacity="0.95" filter="url(#b08)"/>
<rect x="283.6" y="522.1" width="12.5" height="4.5" rx="2.2" fill="#0a0a0a" fill-opacity="0.75" filter="url(#b08)"/>
<rect x="299.1" y="520.2" width="14.2" height="8" rx="2.2" fill="#0a0a0a" fill-opacity="1" filter="url(#b08)"/>
<rect x="312.8" y="512.0" width="2.4" height="12" rx="2.2" fill="#0a0a0a" fill-opacity="0.45" filter="url(#b08)"/>
<text x="192.1" y="543.0" font-size="8.3" text-anchor="middle" fill="#1c1c1c">–</text>
<text x="208.4" y="543.0" font-size="8.3" text-anchor="middle" fill="#1c1c1c">+</text>
<text x="224.7" y="543.0" font-size="8.3" text-anchor="middle" fill="#1c1c1c">–</text>
<text x="241.0" y="543.0" font-size="8.3" text-anchor="middle" fill="#1c1c1c">+</text>
<text x="257.3" y="543.0" font-size="8.3" text-anchor="middle" fill="#1c1c1c">–</text>
<text x="273.6" y="543.0" font-size="8.3" text-anchor="middle" fill="#1c1c1c">+</text>
<text x="289.9" y="543.0" font-size="8.3" text-anchor="middle" fill="#1c1c1c">–</text>
<text x="306.2" y="543.0" font-size="8.3" text-anchor="middle" fill="#1c1c1c">+</text>
<line x1="188.7" y1="546.7" x2="214.7" y2="546.7" stroke="#4a4a4a" stroke-width="0.85"/>
<text x="201.7" y="557.8" font-size="8.5" text-anchor="middle" fill="#1c1c1c">dX</text>
<line x1="221.3" y1="546.7" x2="245.6" y2="546.7" stroke="#4a4a4a" stroke-width="0.85"/>
<text x="233.45" y="557.8" font-size="8.5" text-anchor="middle" fill="#1c1c1c">Vpx</text>
<line x1="252.2" y1="546.7" x2="278.2" y2="546.7" stroke="#4a4a4a" stroke-width="0.85"/>
<text x="265.2" y="557.8" font-size="8.5" text-anchor="middle" fill="#1c1c1c">dX</text>
<line x1="283.9" y1="546.7" x2="309.9" y2="546.7" stroke="#4a4a4a" stroke-width="0.85"/>
<text x="296.9" y="557.8" font-size="8.5" text-anchor="middle" fill="#1c1c1c">Vpx</text>
<line x1="188.7" y1="562.0" x2="246.4" y2="562.0" stroke="#4a4a4a" stroke-width="0.85"/>
<text x="197.8" y="574.0" font-size="8.0" textLength="22.1" lengthAdjust="spacingAndGlyphs" fill="#1c1c1c">JVM-2</text>
<text x="220.0" y="570.6" font-size="5.7" textLength="17.5" lengthAdjust="spacingAndGlyphs" fill="#1c1c1c">vector</text>
<line x1="252.2" y1="562.0" x2="309.9" y2="562.0" stroke="#4a4a4a" stroke-width="0.85"/>
<text x="261.0" y="574.0" font-size="8.0" textLength="22.1" lengthAdjust="spacingAndGlyphs" fill="#1c1c1c">JVM-2</text>
<text x="283.3" y="570.6" font-size="5.7" textLength="18.0" lengthAdjust="spacingAndGlyphs" fill="#1c1c1c">iSOX11</text>
<text x="331.8" y="350.2" font-size="10.6" font-weight="bold" fill="#111">G</text>
<line x1="361.6" y1="372.1" x2="361.6" y2="471.20000000000005" stroke="#333333" stroke-width="1.45"/>
<line x1="358.6" y1="470.6" x2="361.6" y2="470.6" stroke="#333333" stroke-width="1.2"/>
<text x="356.2" y="473.0" font-size="8.8" text-anchor="end" textLength="10.8" lengthAdjust="spacingAndGlyphs" fill="#1c1c1c">0.0</text>
<line x1="358.6" y1="451.42" x2="361.6" y2="451.42" stroke="#333333" stroke-width="1.2"/>
<text x="356.2" y="453.82" font-size="8.8" text-anchor="end" textLength="10.8" lengthAdjust="spacingAndGlyphs" fill="#1c1c1c">0.2</text>
<line x1="358.6" y1="432.24" x2="361.6" y2="432.24" stroke="#333333" stroke-width="1.2"/>
<text x="356.2" y="434.64" font-size="8.8" text-anchor="end" textLength="10.8" lengthAdjust="spacingAndGlyphs" fill="#1c1c1c">0.4</text>
<line x1="358.6" y1="413.06" x2="361.6" y2="413.06" stroke="#333333" stroke-width="1.2"/>
<text x="356.2" y="415.46" font-size="8.8" text-anchor="end" textLength="10.8" lengthAdjust="spacingAndGlyphs" fill="#1c1c1c">0.6</text>
<line x1="358.6" y1="393.88" x2="361.6" y2="393.88" stroke="#333333" stroke-width="1.2"/>
<text x="356.2" y="396.28" font-size="8.8" text-anchor="end" textLength="10.8" lengthAdjust="spacingAndGlyphs" fill="#1c1c1c">0.8</text>
<line x1="358.6" y1="374.70000000000005" x2="361.6" y2="374.70000000000005" stroke="#333333" stroke-width="1.2"/>
<text x="356.2" y="377.1" font-size="8.8" text-anchor="end" textLength="10.8" lengthAdjust="spacingAndGlyphs" fill="#1c1c1c">1.0</text>
<line x1="359.5" y1="470.6" x2="426.9" y2="470.6" stroke="#333333" stroke-width="1.1"/>
<line x1="377.8" y1="470.6" x2="377.8" y2="473.3" stroke="#333333" stroke-width="1"/>
<line x1="410.3" y1="470.6" x2="410.3" y2="473.3" stroke="#333333" stroke-width="1"/>
<text x="377.7" y="483.4" font-size="7.7" text-anchor="middle" textLength="22.3" lengthAdjust="spacingAndGlyphs" fill="#1c1c1c">vector</text>
<text x="410.2" y="483.4" font-size="7.7" text-anchor="middle" textLength="26.5" lengthAdjust="spacingAndGlyphs" fill="#1c1c1c">iSOX11</text>
<text transform="translate(339.4,421.0) rotate(-90)" font-size="9" text-anchor="middle" textLength="42" lengthAdjust="spacingAndGlyphs" fill="#1c1c1c">ara-CTP/dTTP</text>
<circle cx="377.6" cy="418.7" r="2.1" fill="#1c4a74"/>
<circle cx="377.6" cy="432.9" r="2.1" fill="#1c4a74"/>
<circle cx="377.6" cy="445.1" r="2.1" fill="#1c4a74"/>
<line x1="367.5" y1="432.9" x2="389.1" y2="432.9" stroke="#3a6d9c" stroke-width="1.2"/>
<circle cx="410" cy="388" r="2.1" fill="#c1143b"/>
<circle cx="413.6" cy="392.1" r="2.1" fill="#c1143b"/>
<circle cx="407.6" cy="397.6" r="2.1" fill="#c1143b"/>
<line x1="399.9" y1="392.1" x2="421.3" y2="392.1" stroke="#bb2443" stroke-width="1.2"/>
<polyline points="380,414.4 380,376.5 408.3,376.5 408.3,382.7" fill="none" stroke="#333" stroke-width="0.9"/>
<text x="394.4" y="375.0" font-size="8.5" text-anchor="middle" fill="#1c1c1c">**</text>
<rect x="0.5" y="0.5" width="519" height="582" fill="none" stroke="#5e5e5e" stroke-width="1"/>
</svg>
</body></html>
